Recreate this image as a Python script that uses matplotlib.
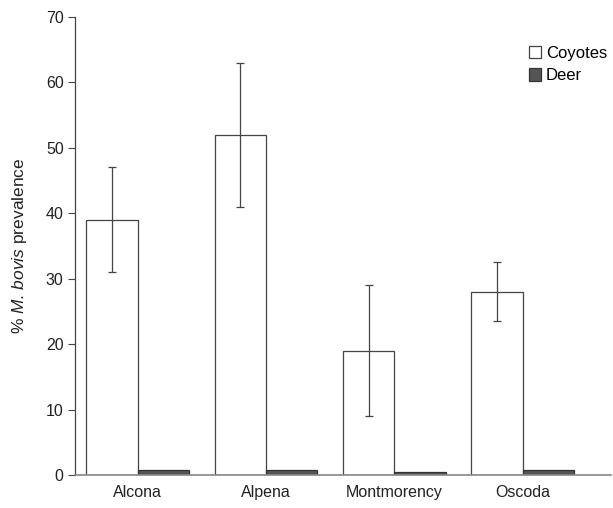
import numpy as np
import matplotlib
matplotlib.use("Agg")
import matplotlib.pyplot as plt

plt.rcParams['font.family'] = ['Liberation Sans', 'DejaVu Sans']
plt.rcParams['mathtext.fontset'] = 'custom'
plt.rcParams['mathtext.it'] = 'Liberation Sans:italic'
plt.rcParams['mathtext.rm'] = 'Liberation Sans'

# Data
counties = ['Alcona', 'Alpena', 'Montmorency', 'Oscoda']
coyotes = [39, 52, 19, 28]
coyote_err = [8, 11, 10, 4.5]
deer = [0.7, 0.7, 0.4, 0.8]

x = np.arange(len(counties))
w = 0.4

fig = plt.figure(figsize=(6.13, 5.08), dpi=100)
ax = fig.add_axes([0.122, 0.065, 0.875, 0.9015])

ax.bar(x - w/2, coyotes, w, color='white', edgecolor='#444444', linewidth=0.9,
       label='Coyotes', zorder=2)
ax.errorbar(x - w/2, coyotes, yerr=coyote_err, fmt='none', ecolor='#444444',
            elinewidth=0.9, capsize=3, capthick=0.9, zorder=3)
ax.bar(x + w/2, deer, w, color='#555555', edgecolor='#333333', linewidth=0.9,
       label='Deer', zorder=2)

ax.set_xlim(-0.49, 3.69)
ax.set_ylim(0, 70)
ax.set_yticks(range(0, 71, 10))
ax.set_xticks(x)
ax.set_xticklabels(counties, fontsize=11.5, color='#222222')
ax.tick_params(axis='x', length=0, pad=7)
ax.tick_params(axis='y', length=5, width=0.8, color='#444444', labelsize=11.5,
               labelcolor='#222222', pad=3)

for s in ['top', 'right']:
    ax.spines[s].set_visible(False)
ax.spines['left'].set_color('#444444')
ax.spines['bottom'].set_color('#888888')
ax.spines['left'].set_linewidth(0.9)
ax.spines['bottom'].set_linewidth(1.2)

ax.set_ylabel(r'% $\mathit{M.\,bovis}$ prevalence', fontsize=12.5,
              color='#222222', labelpad=12)

ax.legend(loc='upper right', bbox_to_anchor=(1.02, 0.97), frameon=False,
          fontsize=12, handlelength=0.75, handleheight=0.75, handletextpad=0.25,
          labelspacing=0.45)

plt.savefig("out.png", dpi=100)
